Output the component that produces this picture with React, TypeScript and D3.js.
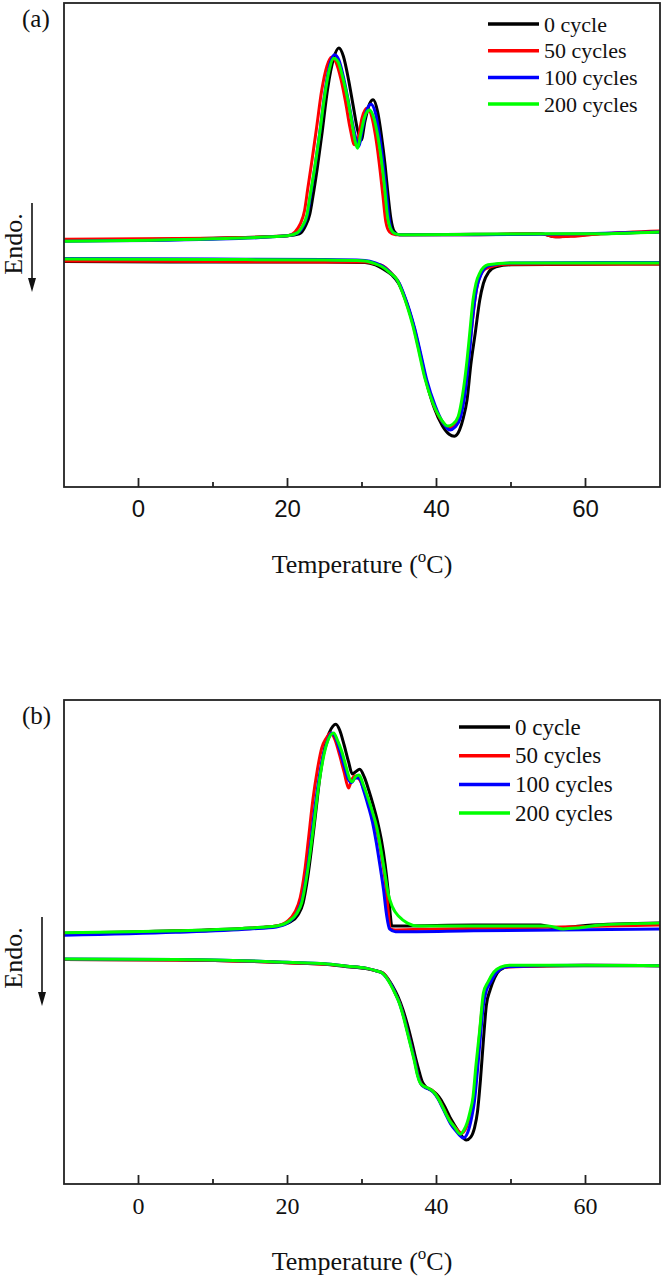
import React, { useEffect } from "react";
import * as d3 from "d3";

type Pt = [number, number];

// x: temperature (°C); y: heat flow (arbitrary units, panel spans 0..10)
const SERIES_NAMES = ["0 cycle", "50 cycles", "100 cycles", "200 cycles"];
const SERIES_COLORS = ["#000000", "#ff0000", "#0000ff", "#00ff00"];
const MAJOR_TICKS = [0, 20, 40, 60];
const MINOR_TICKS = [10, 30, 50];
const X_DOMAIN: Pt = [-10, 70];
const Y_DOMAIN: Pt = [0, 10];

// ---------- Panel (a) ----------
const a_upper_0: Pt[] = [[-10,5.10],[10,5.14],[20,5.19],[21.6,5.23],[22.4,5.39],[23.0,5.64],[23.4,5.99],[24.0,6.59],[24.6,7.27],[25.4,8.24],[26.2,8.86],[26.9,9.07],[27.5,8.90],[28.2,8.41],[28.8,7.89],[29.4,7.38],[29.9,7.17],[30.4,7.56],[31.0,7.91],[31.5,8.00],[32.1,7.75],[32.6,7.27],[33.1,6.65],[33.5,6.03],[33.9,5.52],[34.3,5.29],[35.0,5.21],[45,5.22],[54,5.23],[56,5.17],[58,5.19],[62,5.23],[70,5.27]];
const a_upper_50: Pt[] = [[-10,5.12],[10,5.14],[20,5.19],[21.0,5.27],[21.7,5.43],[22.3,5.72],[22.7,6.14],[23.3,6.76],[23.9,7.42],[24.6,8.20],[25.3,8.70],[25.9,8.88],[26.5,8.78],[27.2,8.41],[27.8,7.95],[28.4,7.42],[29.0,7.07],[29.5,7.21],[30.0,7.62],[30.7,7.83],[31.3,7.66],[31.8,7.27],[32.3,6.71],[32.8,6.03],[33.2,5.48],[33.7,5.27],[34.5,5.21],[45,5.21],[54,5.23],[56,5.17],[58,5.18],[62,5.23],[70,5.29]];
const a_upper_100: Pt[] = [[-10,5.08],[10,5.12],[20,5.19],[21.4,5.25],[22.1,5.39],[22.7,5.64],[23.1,6.03],[23.7,6.63],[24.3,7.29],[25.1,8.24],[25.7,8.74],[26.3,8.93],[26.9,8.82],[27.6,8.41],[28.2,7.95],[28.8,7.46],[29.3,7.13],[29.6,7.04],[30.0,7.36],[30.6,7.77],[31.2,7.91],[31.8,7.73],[32.3,7.31],[32.8,6.74],[33.3,6.03],[33.7,5.48],[34.1,5.27],[35.0,5.21],[45,5.21],[60,5.23],[70,5.27]];
const a_upper_200: Pt[] = [[-10,5.08],[10,5.13],[20,5.19],[21.3,5.25],[22.0,5.39],[22.6,5.62],[23.0,5.99],[23.6,6.55],[24.2,7.17],[25.0,8.10],[25.6,8.62],[26.2,8.86],[26.8,8.78],[27.5,8.41],[28.1,8.00],[28.7,7.48],[29.1,7.13],[29.4,7.00],[29.8,7.27],[30.3,7.62],[31.0,7.79],[31.6,7.62],[32.1,7.27],[32.6,6.76],[33.0,6.24],[33.4,5.62],[33.8,5.35],[34.5,5.23],[35.5,5.21],[45,5.22],[55,5.23],[60,5.23],[70,5.27]];

const a_lower_0: Pt[] = [[-10,4.66],[10,4.65],[25,4.65],[30.4,4.64],[31.8,4.59],[32.9,4.50],[34.0,4.38],[34.9,4.21],[35.6,3.97],[36.3,3.66],[37.0,3.29],[37.7,2.83],[38.6,2.21],[39.7,1.63],[40.8,1.26],[41.7,1.09],[42.4,1.05],[43.1,1.18],[43.6,1.43],[44.1,1.80],[44.6,2.52],[45.2,3.18],[45.8,3.86],[46.3,4.21],[47.0,4.44],[48.0,4.55],[50,4.59],[70,4.61]];
const a_lower_50: Pt[] = [[-10,4.67],[10,4.66],[25,4.65],[30.4,4.65],[31.8,4.61],[32.8,4.57],[33.8,4.44],[34.8,4.26],[35.5,4.01],[36.2,3.70],[36.9,3.33],[37.6,2.87],[38.5,2.25],[39.6,1.71],[40.8,1.34],[41.7,1.22],[42.4,1.28],[43.1,1.49],[43.7,1.96],[44.3,2.73],[44.8,3.41],[45.3,4.03],[45.8,4.34],[46.7,4.52],[49.5,4.60],[70,4.61]];
const a_lower_100: Pt[] = [[-10,4.72],[10,4.71],[25,4.70],[30.4,4.68],[31.8,4.63],[32.9,4.55],[34.0,4.40],[35.0,4.21],[35.7,3.95],[36.4,3.64],[37.1,3.26],[37.8,2.81],[38.7,2.21],[39.8,1.69],[40.9,1.32],[41.8,1.18],[42.5,1.24],[43.2,1.43],[43.8,1.90],[44.4,2.73],[44.9,3.55],[45.4,4.11],[46.0,4.40],[47.0,4.57],[50,4.63],[70,4.64]];
const a_lower_200: Pt[] = [[-10,4.71],[10,4.70],[25,4.69],[30.4,4.67],[31.8,4.61],[32.7,4.55],[33.8,4.42],[34.7,4.28],[35.4,4.03],[36.1,3.72],[36.8,3.35],[37.5,2.89],[38.4,2.27],[39.5,1.74],[40.7,1.38],[41.5,1.26],[42.2,1.30],[42.9,1.45],[43.5,1.90],[44.1,2.62],[44.5,3.24],[44.9,3.86],[45.3,4.21],[45.8,4.42],[46.9,4.59],[49.8,4.63],[70,4.63]];

// ---------- Panel (b) ----------
const b_upper_0: Pt[] = [[-10,5.18],[5,5.23],[15,5.29],[18.5,5.33],[20.3,5.41],[21.4,5.56],[22.1,5.81],[22.7,6.32],[23.2,6.90],[23.8,7.69],[24.3,8.35],[24.9,8.93],[25.6,9.32],[26.1,9.46],[26.5,9.50],[27.0,9.38],[27.6,9.07],[28.2,8.72],[28.7,8.47],[29.1,8.51],[29.7,8.57],[30.3,8.41],[30.9,8.14],[31.5,7.83],[32.1,7.48],[32.6,7.11],[33.1,6.61],[33.5,6.07],[33.8,5.56],[34.0,5.33],[35,5.33],[45,5.35],[54,5.35],[56,5.29],[60,5.34],[70,5.39]];
const b_upper_50: Pt[] = [[-10,5.17],[5,5.22],[15,5.28],[18.5,5.33],[20.0,5.43],[21.0,5.62],[21.7,5.91],[22.3,6.45],[22.8,7.11],[23.4,7.93],[24.0,8.55],[24.6,9.01],[25.2,9.21],[25.8,9.32],[26.4,9.17],[27.0,8.86],[27.6,8.51],[28.2,8.18],[28.6,8.35],[29.1,8.43],[29.7,8.35],[30.3,8.14],[30.9,7.87],[31.5,7.58],[32.1,7.23],[32.6,6.80],[33.1,6.28],[33.5,5.66],[33.8,5.27],[34.5,5.25],[40,5.27],[50,5.29],[70,5.35]];
const b_upper_100: Pt[] = [[-10,5.14],[5,5.20],[15,5.27],[18.5,5.31],[20.2,5.41],[21.2,5.58],[21.9,5.85],[22.5,6.34],[23.0,6.90],[23.6,7.69],[24.2,8.35],[24.8,8.86],[25.4,9.17],[25.9,9.32],[26.4,9.24],[27.0,8.97],[27.6,8.64],[28.2,8.35],[28.6,8.29],[29.1,8.39],[29.6,8.39],[30.2,8.14],[30.8,7.83],[31.4,7.48],[31.9,7.07],[32.4,6.59],[32.9,6.07],[33.3,5.56],[33.7,5.27],[34.5,5.21],[45,5.23],[70,5.27]];
const b_upper_200: Pt[] = [[-10,5.19],[5,5.23],[15,5.29],[18.5,5.33],[20.2,5.43],[21.2,5.58],[21.9,5.81],[22.5,6.28],[23.0,6.80],[23.6,7.52],[24.1,8.14],[24.7,8.72],[25.3,9.11],[25.8,9.28],[26.2,9.32],[26.7,9.17],[27.3,8.93],[27.9,8.60],[28.4,8.35],[28.7,8.31],[29.1,8.41],[29.6,8.45],[30.2,8.24],[30.8,7.98],[31.4,7.69],[32.0,7.36],[32.5,6.94],[33.0,6.49],[33.5,6.01],[34.1,5.72],[35.0,5.52],[36.1,5.39],[37.5,5.33],[45,5.33],[55,5.33],[57,5.27],[59,5.29],[62,5.35],[70,5.39]];

const b_lower_0: Pt[] = [[-10,4.64],[5,4.63],[15,4.60],[20,4.57],[25,4.54],[28,4.49],[30.5,4.45],[32.0,4.40],[32.8,4.36],[33.5,4.24],[34.1,4.09],[34.8,3.88],[35.5,3.60],[36.1,3.29],[36.7,2.93],[37.2,2.60],[37.7,2.31],[38.1,2.11],[38.6,2.00],[39.3,1.94],[40.0,1.86],[40.6,1.74],[41.2,1.57],[41.8,1.38],[42.5,1.20],[43.2,1.03],[44.0,0.91],[44.6,0.97],[45.1,1.16],[45.5,1.49],[45.9,2.15],[46.3,2.98],[46.7,3.70],[47.2,4.01],[47.8,4.26],[48.5,4.42],[49.8,4.50],[60,4.51],[70,4.51]];
const b_lower_50: Pt[] = [[-10,4.64],[5,4.63],[15,4.60],[20,4.57],[25,4.54],[28,4.50],[30.5,4.46],[32.0,4.40],[32.8,4.36],[33.4,4.25],[33.9,4.12],[34.5,3.93],[35.1,3.72],[35.7,3.41],[36.2,3.10],[36.7,2.79],[37.1,2.54],[37.5,2.25],[37.9,2.08],[38.4,2.01],[39.0,1.97],[39.6,1.91],[40.2,1.78],[40.8,1.61],[41.3,1.45],[41.9,1.28],[42.6,1.15],[43.4,1.05],[44.0,1.17],[44.5,1.40],[44.9,1.70],[45.3,2.20],[45.7,2.95],[46.1,3.60],[46.5,3.98],[47.0,4.17],[47.8,4.38],[49.0,4.48],[60,4.52],[70,4.51]];
const b_lower_100: Pt[] = [[-10,4.65],[5,4.64],[15,4.61],[20,4.58],[25,4.55],[28,4.50],[30.5,4.46],[32.0,4.40],[32.7,4.36],[33.3,4.26],[33.9,4.12],[34.5,3.93],[35.1,3.71],[35.7,3.40],[36.2,3.09],[36.7,2.78],[37.1,2.53],[37.5,2.24],[37.9,2.07],[38.4,2.00],[39.0,1.96],[39.6,1.89],[40.2,1.76],[40.8,1.58],[41.3,1.42],[41.9,1.24],[42.6,1.10],[43.6,0.95],[44.2,1.07],[44.7,1.36],[45.1,1.72],[45.5,2.35],[45.9,3.05],[46.3,3.70],[46.7,4.00],[47.2,4.15],[48.0,4.36],[49.5,4.49],[60,4.52],[70,4.51]];
const b_lower_200: Pt[] = [[-10,4.65],[5,4.64],[15,4.61],[20,4.58],[25,4.55],[28,4.50],[30.5,4.46],[32.0,4.40],[32.7,4.36],[33.3,4.26],[33.8,4.13],[34.4,3.95],[35.0,3.74],[35.6,3.43],[36.1,3.12],[36.6,2.81],[37.0,2.56],[37.4,2.27],[37.8,2.09],[38.3,2.02],[38.9,1.98],[39.5,1.92],[40.1,1.80],[40.7,1.63],[41.2,1.47],[41.8,1.30],[42.4,1.18],[43.2,1.03],[43.7,1.12],[44.1,1.26],[44.5,1.49],[44.9,1.80],[45.3,2.46],[45.8,3.18],[46.3,3.95],[46.9,4.17],[47.7,4.38],[48.6,4.48],[49.8,4.52],[60,4.52],[70,4.51]];

interface PanelCfg {
  label: string;
  top: number;
  bottom: number;
  upper: Pt[][];
  lower: Pt[][];
  tickFont: string;
  arrowX: number;
  endoY: number;
  legendX: number;
  legendY: number;
  legendStep: number;
  legendFont: number;
}

const PANELS: PanelCfg[] = [
  {
    label: "(a)", top: 3, bottom: 487,
    upper: [a_upper_0, a_upper_50, a_upper_100, a_upper_200],
    lower: [a_lower_0, a_lower_50, a_lower_100, a_lower_200],
    tickFont: "'Liberation Sans', Arial, sans-serif",
    arrowX: 32, endoY: 244,
    legendX: 488, legendY: 24, legendStep: 26.7, legendFont: 22,
  },
  {
    label: "(b)", top: 700, bottom: 1184,
    upper: [b_upper_0, b_upper_50, b_upper_100, b_upper_200],
    lower: [b_lower_0, b_lower_50, b_lower_100, b_lower_200],
    tickFont: "'Liberation Serif', 'Times New Roman', serif",
    arrowX: 42, endoY: 958,
    legendX: 459, legendY: 727, legendStep: 28.7, legendFont: 23,
  },
];

const SERIF = "'Liberation Serif', 'Times New Roman', serif";
const LEFT = 64;
const RIGHT = 660;

function Panel({ cfg }: { cfg: PanelCfg }) {
  const x = d3.scaleLinear().domain(X_DOMAIN).range([LEFT, RIGHT]);
  const y = d3.scaleLinear().domain(Y_DOMAIN).range([cfg.bottom, cfg.top]);
  const line = d3
    .line<Pt>()
    .x((d) => x(d[0]))
    .y((d) => y(d[1]))
    .curve(d3.curveMonotoneX);
  const clipId = `clip-${cfg.label.replace(/[()]/g, "")}`;
  const titleY = cfg.bottom + 86;
  const tickLabelY = cfg.bottom + 30;
  return (
    <g>
      <defs>
        <clipPath id={clipId}>
          <rect x={LEFT} y={cfg.top} width={RIGHT - LEFT} height={cfg.bottom - cfg.top} />
        </clipPath>
      </defs>
      <g clipPath={`url(#${clipId})`}>
        {[0, 1, 2, 3].map((i) => (
          <g key={i}>
            <path d={line(cfg.upper[i]) || ""} fill="none" stroke={SERIES_COLORS[i]} strokeWidth={3} strokeLinejoin="round" strokeLinecap="round" />
            <path d={line(cfg.lower[i]) || ""} fill="none" stroke={SERIES_COLORS[i]} strokeWidth={3} strokeLinejoin="round" strokeLinecap="round" />
          </g>
        ))}
      </g>
      <rect x={LEFT} y={cfg.top} width={RIGHT - LEFT} height={cfg.bottom - cfg.top} fill="none" stroke="#222" strokeWidth={1.8} />
      {MAJOR_TICKS.map((t) => (
        <g key={`M${t}`}>
          <line x1={x(t)} x2={x(t)} y1={cfg.bottom} y2={cfg.bottom - 9} stroke="#222" strokeWidth={1.8} />
          <text x={x(t)} y={tickLabelY} textAnchor="middle" fontFamily={cfg.tickFont} fontSize={24} fill="#111">{t}</text>
        </g>
      ))}
      {MINOR_TICKS.map((t) => (
        <line key={`m${t}`} x1={x(t)} x2={x(t)} y1={cfg.bottom} y2={cfg.bottom - 5} stroke="#222" strokeWidth={1.8} />
      ))}
      <text x={(LEFT + RIGHT) / 2} y={titleY} textAnchor="middle" fontFamily={SERIF} fontSize={26} fill="#111">
        Temperature (<tspan fontSize={17} dy={-11}>o</tspan><tspan dy={11}>C)</tspan>
      </text>
      <text x={22} y={cfg.top + 24} fontFamily={SERIF} fontSize={25} fill="#111">{cfg.label}</text>
      <text transform={`translate(22,${cfg.endoY}) rotate(-90)`} textAnchor="middle" fontFamily={SERIF} fontSize={26} fill="#111">Endo.</text>
      <line x1={cfg.arrowX} x2={cfg.arrowX} y1={cfg.endoY - 41} y2={cfg.endoY + 36} stroke="#111" strokeWidth={1.6} />
      <path d={`M${cfg.arrowX - 4},${cfg.endoY + 34} L${cfg.arrowX + 4},${cfg.endoY + 34} L${cfg.arrowX},${cfg.endoY + 48} Z`} fill="#111" />
      {SERIES_NAMES.map((name, i) => {
        const ly = cfg.legendY + i * cfg.legendStep;
        return (
          <g key={name}>
            <line x1={cfg.legendX} x2={cfg.legendX + 51} y1={ly} y2={ly} stroke={SERIES_COLORS[i]} strokeWidth={3.5} />
            <text x={cfg.legendX + 56} y={ly + 7.5} fontFamily={SERIF} fontSize={cfg.legendFont} fill="#111">{name}</text>
          </g>
        );
      })}
    </g>
  );
}

export default function App() {
  useEffect(() => {
    document.body.style.margin = "0";
  }, []);
  return (
    <svg width={666} height={1285} viewBox="0 0 666 1285" style={{ display: "block", background: "#fff" }}>
      <rect x={0} y={0} width={666} height={1285} fill="#fff" />
      {PANELS.map((p) => (
        <Panel key={p.label} cfg={p} />
      ))}
    </svg>
  );
}
